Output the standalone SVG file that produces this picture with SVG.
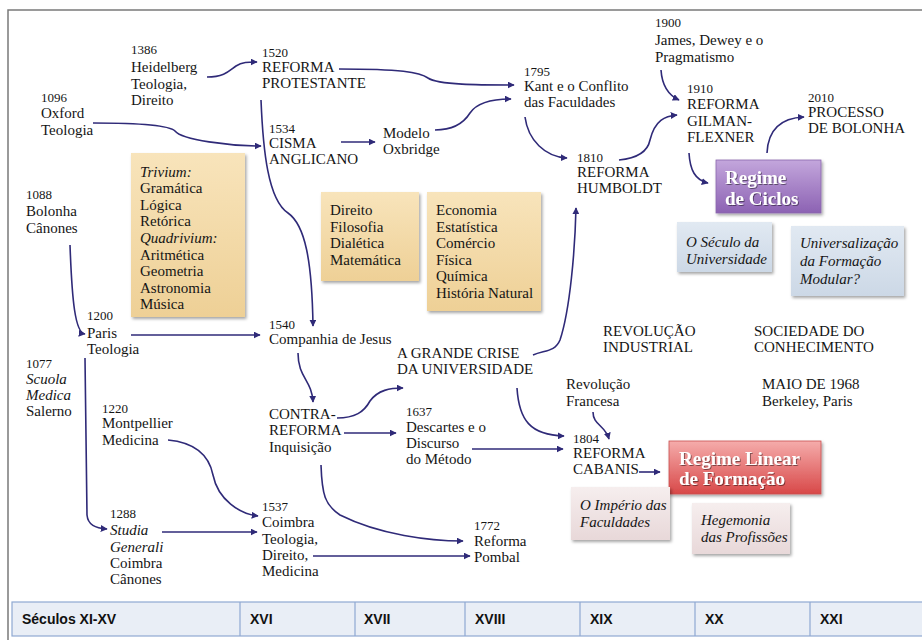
<svg xmlns="http://www.w3.org/2000/svg" width="922" height="640" viewBox="0 0 922 640">
<style>
.t{font-family:"Liberation Serif","DejaVu Serif",serif;font-size:15px;fill:#151515}
.y{font-size:13px}
.i{font-style:italic}
.b{font-family:"Liberation Serif","DejaVu Serif",serif;font-size:19px;font-weight:bold;fill:#fff}
.c{fill:none;stroke:#2f2a78;stroke-width:1.6;marker-end:url(#ah)}
.tab{font-family:"Liberation Sans",Arial,sans-serif;font-size:14px;font-weight:bold;fill:#111}
</style>
<defs>
<marker id="ah" viewBox="0 0 10 10" refX="9" refY="5" markerWidth="7" markerHeight="7" markerUnits="userSpaceOnUse" orient="auto">
<path d="M0,0 L10,5 L0,10 z" fill="#2f2a78"/>
</marker>
<linearGradient id="gTan" x1="0" y1="0" x2="0" y2="1"><stop offset="0" stop-color="#f8e4bb"/><stop offset="1" stop-color="#eed096"/></linearGradient>
<linearGradient id="gBlue" x1="0" y1="0" x2="0" y2="1"><stop offset="0" stop-color="#e1e9f2"/><stop offset="1" stop-color="#ccd8e6"/></linearGradient>
<linearGradient id="gPink" x1="0" y1="0" x2="0" y2="1"><stop offset="0" stop-color="#f6eeee"/><stop offset="1" stop-color="#e8d8d9"/></linearGradient>
<linearGradient id="gPurple" x1="0" y1="0" x2="0" y2="1"><stop offset="0" stop-color="#c3a6dc"/><stop offset="1" stop-color="#8c62b3"/></linearGradient>
<linearGradient id="gRed" x1="0" y1="0" x2="0" y2="1"><stop offset="0" stop-color="#f5acab"/><stop offset="1" stop-color="#d84848"/></linearGradient>
<filter id="sh" x="-10%" y="-10%" width="125%" height="130%"><feDropShadow dx="1.5" dy="2" stdDeviation="1.5" flood-color="#000" flood-opacity="0.35"/></filter>
<filter id="ts" x="-5%" y="-5%" width="115%" height="130%"><feDropShadow dx="1" dy="1" stdDeviation="0.6" flood-color="#000" flood-opacity="0.45"/></filter>
</defs>

<path d="M922,10 H8 V640" fill="none" stroke="#7a7a7a" stroke-width="1.5"/>

<g id="connectors">
<path class="c" d="M207,77 C225,77 230,70 236,66 C242,62 248,62 257,62"/>
<path class="c" d="M93,123 C130,123 168,124 175,131 C182,140 230,146 261,146"/>
<path class="c" d="M339,69 C400,69 420,72 428,78 C438,85 480,85 514,85"/>
<path class="c" d="M341,142 L375,142"/>
<path class="c" d="M435,130 C455,130 465,121 470,113 C478,101 495,99 511,99"/>
<path class="c" d="M525,117 C528,140 545,157 567,158"/>
<path class="c" d="M261,100 C263,150 268,200 288,213 C305,225 312,260 313,326"/>
<path class="c" d="M131,335 L260,335"/>
<path class="c" d="M298,353 C298,378 312,380 313,402"/>
<path class="c" d="M337,418 C355,418 364,412 370,401 C378,390 390,388 403,388"/>
<path class="c" d="M344,433 L396,433"/>
<path class="c" d="M472,449 L563,449"/>
<path class="c" d="M517,388 C519,420 530,435 564,436"/>
<path class="c" d="M321,465 C322,495 325,505 340,515 C380,535 430,541 463,541"/>
<path class="c" d="M313,556 L470,556"/>
<path class="c" d="M533,355 C545,350 555,352 560,340 C570,310 575,250 576,208"/>
<path class="c" d="M619,160 C640,158 648,150 650,140 C655,120 665,116 677,115"/>
<path class="c" d="M661,70 C662,85 668,95 679,100"/>
<path class="c" d="M689,153 C690,170 695,180 708,183"/>
<path class="c" d="M767,153 C768,130 780,118 804,117"/>
<path class="c" d="M70,245 C72,300 75,333 85,334"/>
<path class="c" d="M85,358 L87,515 C88,525 95,528 107,529"/>
<path class="c" d="M168,440 C200,443 210,460 213,475 C218,500 240,514 258,516"/>
<path class="c" d="M162,532 L257,532"/>
<path class="c" d="M593,412 C593,425 605,425 609,439"/>
<path class="c" d="M639,472 L660,472"/>
</g>

<g id="n1386"><text class="t"><tspan class="y" x="131" y="54">1386</tspan><tspan x="131" y="72">Heidelberg</tspan><tspan x="131" y="89">Teologia,</tspan><tspan x="131" y="105">Direito</tspan></text></g>
<g id="n1096"><text class="t"><tspan class="y" x="41" y="102">1096</tspan><tspan x="41" y="118">Oxford</tspan><tspan x="41" y="135">Teologia</tspan></text></g>
<g id="n1520"><text class="t"><tspan class="y" x="262" y="57">1520</tspan><tspan x="262" y="72">REFORMA</tspan><tspan x="262" y="88">PROTESTANTE</tspan></text></g>
<g id="n1534"><text class="t"><tspan class="y" x="269" y="133">1534</tspan><tspan x="269" y="148">CISMA</tspan><tspan x="269" y="164">ANGLICANO</tspan></text></g>
<g id="nOxbridge"><text class="t"><tspan x="383" y="138">Modelo</tspan><tspan x="383" y="154">Oxbridge</tspan></text></g>
<g id="n1795"><text class="t"><tspan class="y" x="524" y="76">1795</tspan><tspan x="524" y="91">Kant e o Conflito</tspan><tspan x="524" y="107">das Faculdades</tspan></text></g>
<g id="n1810"><text class="t"><tspan class="y" x="577" y="162">1810</tspan><tspan x="577" y="177">REFORMA</tspan><tspan x="577" y="193">HUMBOLDT</tspan></text></g>
<g id="n1900"><text class="t"><tspan class="y" x="655" y="27">1900</tspan><tspan x="655" y="45">James, Dewey e o</tspan><tspan x="655" y="62">Pragmatismo</tspan></text></g>
<g id="n1910"><text class="t"><tspan class="y" x="687" y="93">1910</tspan><tspan x="687" y="109">REFORMA</tspan><tspan x="687" y="126">GILMAN-</tspan><tspan x="687" y="142">FLEXNER</tspan></text></g>
<g id="n2010"><text class="t"><tspan class="y" x="808" y="102">2010</tspan><tspan x="808" y="117">PROCESSO</tspan><tspan x="808" y="133">DE BOLONHA</tspan></text></g>

<g id="regimeCiclos"><rect x="716" y="160" width="105" height="53" fill="url(#gPurple)" stroke="#8a68ad" stroke-width="0.8" filter="url(#sh)"/><text class="b" filter="url(#ts)"><tspan x="725" y="184">Regime</tspan><tspan x="725" y="205">de Ciclos</tspan></text></g>
<g id="seculoUniv"><rect x="677" y="222" width="95" height="50" fill="url(#gBlue)" filter="url(#sh)"/><text class="t i"><tspan x="686" y="247">O Século da</tspan><tspan x="686" y="264">Universidade</tspan></text></g>
<g id="universalizacao"><rect x="791" y="226" width="113" height="70" fill="url(#gBlue)" filter="url(#sh)"/><text class="t i"><tspan x="800" y="248">Universalização</tspan><tspan x="800" y="266">da Formação</tspan><tspan x="800" y="284">Modular?</tspan></text></g>

<g id="trivium"><rect x="131" y="153" width="114" height="164" fill="url(#gTan)" filter="url(#sh)"/><text class="t"><tspan class="i" x="140" y="177">Trivium:</tspan><tspan x="140" y="193">Gramática</tspan><tspan x="140" y="210">Lógica</tspan><tspan x="140" y="226">Retórica</tspan><tspan class="i" x="140" y="243">Quadrivium:</tspan><tspan x="140" y="260">Aritmética</tspan><tspan x="140" y="276">Geometria</tspan><tspan x="140" y="293">Astronomia</tspan><tspan x="140" y="309">Música</tspan></text></g>
<g id="direitoBox"><rect x="321" y="192" width="98" height="89" fill="url(#gTan)" filter="url(#sh)"/><text class="t"><tspan x="330" y="215">Direito</tspan><tspan x="330" y="232">Filosofia</tspan><tspan x="330" y="248">Dialética</tspan><tspan x="330" y="265">Matemática</tspan></text></g>
<g id="economiaBox"><rect x="427" y="192" width="114" height="119" fill="url(#gTan)" filter="url(#sh)"/><text class="t"><tspan x="436" y="215">Economia</tspan><tspan x="436" y="232">Estatística</tspan><tspan x="436" y="248">Comércio</tspan><tspan x="436" y="265">Física</tspan><tspan x="436" y="281">Química</tspan><tspan x="436" y="298">História Natural</tspan></text></g>

<g id="n1088"><text class="t"><tspan class="y" x="26" y="199">1088</tspan><tspan x="26" y="216">Bolonha</tspan><tspan x="26" y="233">Cânones</tspan></text></g>
<g id="n1200"><text class="t"><tspan class="y" x="87" y="320">1200</tspan><tspan x="87" y="338">Paris</tspan><tspan x="87" y="354">Teologia</tspan></text></g>
<g id="n1540"><text class="t"><tspan class="y" x="269" y="329">1540</tspan><tspan x="269" y="344">Companhia de Jesus</tspan></text></g>
<g id="crise"><text class="t"><tspan x="397" y="358">A GRANDE CRISE</tspan><tspan x="397" y="374">DA UNIVERSIDADE</tspan></text></g>
<g id="revInd"><text class="t"><tspan x="603" y="336">REVOLUÇÃO</tspan><tspan x="603" y="352">INDUSTRIAL</tspan></text></g>
<g id="sociedade"><text class="t"><tspan x="754" y="336">SOCIEDADE DO</tspan><tspan x="754" y="352">CONHECIMENTO</tspan></text></g>
<g id="n1077"><text class="t"><tspan class="y" x="26" y="368">1077</tspan><tspan class="i" x="26" y="384">Scuola</tspan><tspan class="i" x="26" y="400">Medica</tspan><tspan x="26" y="416">Salerno</tspan></text></g>
<g id="n1220"><text class="t"><tspan class="y" x="102" y="413">1220</tspan><tspan x="102" y="428">Montpellier</tspan><tspan x="102" y="445">Medicina</tspan></text></g>
<g id="contra"><text class="t"><tspan x="269" y="419">CONTRA-</tspan><tspan x="269" y="435">REFORMA</tspan><tspan x="269" y="452">Inquisição</tspan></text></g>
<g id="n1637"><text class="t"><tspan class="y" x="406" y="416">1637</tspan><tspan x="406" y="432">Descartes e o</tspan><tspan x="406" y="448">Discurso</tspan><tspan x="406" y="464">do Método</tspan></text></g>
<g id="revFr"><text class="t"><tspan x="566" y="389">Revolução</tspan><tspan x="566" y="406">Francesa</tspan></text></g>
<g id="maio"><text class="t"><tspan x="762" y="389">MAIO DE 1968</tspan><tspan x="762" y="406">Berkeley, Paris</tspan></text></g>
<g id="n1804"><text class="t"><tspan class="y" x="573" y="443">1804</tspan><tspan x="573" y="458">REFORMA</tspan><tspan x="573" y="474">CABANIS</tspan></text></g>

<g id="regimeLinear"><rect x="669" y="441" width="152" height="53" fill="url(#gRed)" stroke="#c85050" stroke-width="0.8" filter="url(#sh)"/><text class="b" filter="url(#ts)"><tspan x="679" y="465">Regime Linear</tspan><tspan x="679" y="485">de Formação</tspan></text></g>
<g id="imperio"><rect x="571" y="487" width="99" height="53" fill="url(#gPink)" filter="url(#sh)"/><text class="t i"><tspan x="580" y="510">O Império das</tspan><tspan x="580" y="527">Faculdades</tspan></text></g>
<g id="hegemonia"><rect x="692" y="503" width="98" height="51" fill="url(#gPink)" filter="url(#sh)"/><text class="t i"><tspan x="701" y="525">Hegemonia</tspan><tspan x="701" y="542">das Profissões</tspan></text></g>

<g id="n1288"><text class="t"><tspan class="y" x="110" y="518">1288</tspan><tspan class="i" x="110" y="535">Studia</tspan><tspan class="i" x="110" y="552">Generali</tspan><tspan x="110" y="568">Coimbra</tspan><tspan x="110" y="584">Cânones</tspan></text></g>
<g id="n1537"><text class="t"><tspan class="y" x="262" y="511">1537</tspan><tspan x="262" y="527">Coimbra</tspan><tspan x="262" y="544">Teologia,</tspan><tspan x="262" y="560">Direito,</tspan><tspan x="262" y="576">Medicina</tspan></text></g>
<g id="n1772"><text class="t"><tspan class="y" x="474" y="530">1772</tspan><tspan x="474" y="546">Reforma</tspan><tspan x="474" y="562">Pombal</tspan></text></g>

<g id="timeline">
<rect x="12" y="602" width="912" height="34" fill="#e9eef6" stroke="#8fa9d2" stroke-width="1.2"/>
<path d="M240,602 V636 M355,602 V636 M465,602 V636 M580,602 V636 M695,602 V636 M810,602 V636" stroke="#8fa9d2" stroke-width="1.2"/>
<text class="tab" x="22" y="624">Séculos XI-XV</text>
<text class="tab" x="250" y="624">XVI</text>
<text class="tab" x="364" y="624">XVII</text>
<text class="tab" x="475" y="624">XVIII</text>
<text class="tab" x="590" y="624">XIX</text>
<text class="tab" x="705" y="624">XX</text>
<text class="tab" x="820" y="624">XXI</text>
</g>
</svg>
